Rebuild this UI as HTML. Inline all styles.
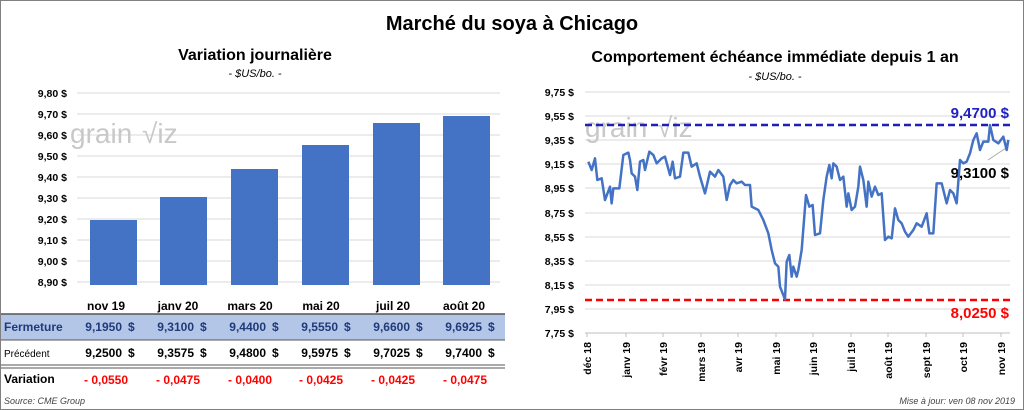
<!DOCTYPE html>
<html><head><meta charset="utf-8"><style>
body{margin:0;background:#fff}
svg{display:block;font-family:"Liberation Sans",sans-serif}
</style></head><body>
<svg width="1024" height="410" viewBox="0 0 1024 410" xmlns="http://www.w3.org/2000/svg">
<rect x="0.5" y="0.5" width="1023" height="409" fill="#fff" stroke="#808080"/>
<text x="512" y="30" text-anchor="middle" font-size="20" font-weight="bold">Marché du soya à Chicago</text>
<text x="255" y="60" text-anchor="middle" font-size="16" font-weight="bold">Variation  journalière</text>
<text x="255" y="77" text-anchor="middle" font-size="11" font-style="italic">- $US/bo. -</text>
<text x="775" y="62" text-anchor="middle" font-size="16" font-weight="bold">Comportement  échéance immédiate depuis 1 an</text>
<text x="775" y="80" text-anchor="middle" font-size="11" font-style="italic">- $US/bo. -</text>
<!-- left chart -->
<g stroke="#d9d9d9" stroke-width="1">
<line x1="77" y1="93" x2="500" y2="93"/><line x1="77" y1="114" x2="500" y2="114"/><line x1="77" y1="135" x2="500" y2="135"/><line x1="77" y1="156" x2="500" y2="156"/><line x1="77" y1="177" x2="500" y2="177"/><line x1="77" y1="198" x2="500" y2="198"/><line x1="77" y1="219" x2="500" y2="219"/><line x1="77" y1="240" x2="500" y2="240"/><line x1="77" y1="261" x2="500" y2="261"/><line x1="77" y1="282" x2="500" y2="282"/>
</g>
<g font-size="10.5" font-weight="bold" text-anchor="end">
<text x="67" y="97">9,80 $</text><text x="67" y="118">9,70 $</text><text x="67" y="139">9,60 $</text><text x="67" y="160">9,50 $</text><text x="67" y="181">9,40 $</text><text x="67" y="202">9,30 $</text><text x="67" y="223">9,20 $</text><text x="67" y="244">9,10 $</text><text x="67" y="265">9,00 $</text><text x="67" y="286">8,90 $</text>
</g>
<text x="70" y="143" font-size="28" fill="#c8c8c8">grain</text><text x="142" y="143" font-size="28" fill="#c8c8c8">√iz</text>
<g fill="#4472c4">
<rect x="90" y="220" width="47" height="65"/>
<rect x="160" y="197" width="47" height="88"/>
<rect x="231" y="169" width="47" height="116"/>
<rect x="302" y="145" width="47" height="140"/>
<rect x="373" y="123" width="47" height="162"/>
<rect x="443" y="116" width="47" height="169"/>
</g>
<g font-size="12" font-weight="bold" text-anchor="middle">
<text x="106" y="310">nov 19</text><text x="178" y="310">janv 20</text><text x="250" y="310">mars 20</text><text x="321" y="310">mai 20</text><text x="393" y="310">juil 20</text><text x="464" y="310">août 20</text>
</g>
<rect x="1" y="314" width="504" height="26" fill="#b4c6e7"/>
<line x1="1" y1="314" x2="505" y2="314" stroke="#555" stroke-width="1.5"/>
<line x1="1" y1="340" x2="505" y2="340" stroke="#555" stroke-width="1"/>
<line x1="1" y1="365" x2="505" y2="365" stroke="#555" stroke-width="1"/>
<line x1="1" y1="368" x2="505" y2="368" stroke="#555" stroke-width="1"/>
<text x="4" y="331" font-size="12" font-weight="bold" fill="#1f3b7a">Fermeture</text>
<text x="4" y="357" font-size="10">Précédent</text>
<text x="4" y="383" font-size="12" font-weight="bold">Variation</text>
<g font-size="12" font-weight="bold" fill="#1f3b7a">
<text x="122" y="331" text-anchor="end">9,1950</text><text x="128" y="331">$</text>
<text x="194" y="331" text-anchor="end">9,3100</text><text x="200" y="331">$</text>
<text x="266" y="331" text-anchor="end">9,4400</text><text x="272" y="331">$</text>
<text x="338" y="331" text-anchor="end">9,5550</text><text x="344" y="331">$</text>
<text x="410" y="331" text-anchor="end">9,6600</text><text x="416" y="331">$</text>
<text x="482" y="331" text-anchor="end">9,6925</text><text x="488" y="331">$</text>
</g>
<g font-size="12" font-weight="bold">
<text x="122" y="357" text-anchor="end">9,2500</text><text x="128" y="357">$</text>
<text x="194" y="357" text-anchor="end">9,3575</text><text x="200" y="357">$</text>
<text x="266" y="357" text-anchor="end">9,4800</text><text x="272" y="357">$</text>
<text x="338" y="357" text-anchor="end">9,5975</text><text x="344" y="357">$</text>
<text x="410" y="357" text-anchor="end">9,7025</text><text x="416" y="357">$</text>
<text x="482" y="357" text-anchor="end">9,7400</text><text x="488" y="357">$</text>
</g>
<g font-size="12" font-weight="bold" fill="#ff0000">
<text x="84" y="384">- 0,0550</text><text x="156" y="384">- 0,0475</text><text x="228" y="384">- 0,0400</text><text x="299" y="384">- 0,0425</text><text x="371" y="384">- 0,0425</text><text x="443" y="384">- 0,0475</text>
</g>
<text x="4" y="404" font-size="9" font-style="italic" fill="#444">Source: CME Group</text>
<text x="1015" y="404" font-size="9" font-style="italic" fill="#444" text-anchor="end">Mise à jour: ven 08 nov 2019</text>
<!-- right chart -->
<g stroke="#d9d9d9" stroke-width="1">
<line x1="585" y1="92" x2="1010" y2="92"/><line x1="585" y1="116" x2="1010" y2="116"/><line x1="585" y1="140" x2="1010" y2="140"/><line x1="585" y1="164" x2="1010" y2="164"/><line x1="585" y1="188" x2="1010" y2="188"/><line x1="585" y1="213" x2="1010" y2="213"/><line x1="585" y1="237" x2="1010" y2="237"/><line x1="585" y1="261" x2="1010" y2="261"/><line x1="585" y1="285" x2="1010" y2="285"/><line x1="585" y1="309" x2="1010" y2="309"/>
</g>
<line x1="585" y1="333" x2="1010" y2="333" stroke="#bfbfbf"/>
<g font-size="10.5" font-weight="bold" text-anchor="end">
<text x="574" y="96">9,75 $</text><text x="574" y="120">9,55 $</text><text x="574" y="144">9,35 $</text><text x="574" y="168">9,15 $</text><text x="574" y="192">8,95 $</text><text x="574" y="217">8,75 $</text><text x="574" y="241">8,55 $</text><text x="574" y="265">8,35 $</text><text x="574" y="289">8,15 $</text><text x="574" y="313">7,95 $</text><text x="574" y="337">7,75 $</text>
</g>
<text x="585" y="137" font-size="28" fill="#c8c8c8">grain</text><text x="657" y="137" font-size="28" fill="#c8c8c8">√iz</text>
<g stroke="#bfbfbf">
<line x1="587" y1="333" x2="587" y2="337"/><line x1="626" y1="333" x2="626" y2="337"/><line x1="663" y1="333" x2="663" y2="337"/><line x1="701" y1="333" x2="701" y2="337"/><line x1="738" y1="333" x2="738" y2="337"/><line x1="776" y1="333" x2="776" y2="337"/><line x1="813" y1="333" x2="813" y2="337"/><line x1="851" y1="333" x2="851" y2="337"/><line x1="888" y1="333" x2="888" y2="337"/><line x1="926" y1="333" x2="926" y2="337"/><line x1="963" y1="333" x2="963" y2="337"/><line x1="1001" y1="333" x2="1001" y2="337"/>
</g>
<g font-size="10.5" font-weight="bold" text-anchor="end">
<text transform="translate(591,342) rotate(-90)">déc 18</text>
<text transform="translate(630,342) rotate(-90)">janv 19</text>
<text transform="translate(667,342) rotate(-90)">févr 19</text>
<text transform="translate(705,342) rotate(-90)">mars 19</text>
<text transform="translate(742,342) rotate(-90)">avr 19</text>
<text transform="translate(780,342) rotate(-90)">mai 19</text>
<text transform="translate(817,342) rotate(-90)">juin 19</text>
<text transform="translate(855,342) rotate(-90)">juil 19</text>
<text transform="translate(892,342) rotate(-90)">août 19</text>
<text transform="translate(930,342) rotate(-90)">sept 19</text>
<text transform="translate(967,342) rotate(-90)">oct 19</text>
<text transform="translate(1005,342) rotate(-90)">nov 19</text>
</g>
<line x1="585" y1="125" x2="1010" y2="125" stroke="#1f1fb4" stroke-width="2.5" stroke-dasharray="7,4"/>
<line x1="585" y1="300" x2="1010" y2="300" stroke="#ff0000" stroke-width="2.5" stroke-dasharray="7,4"/>
<text x="1009" y="118" font-size="15" font-weight="bold" fill="#2020c0" text-anchor="end">9,4700 $</text>
<text x="1009" y="318" font-size="15" font-weight="bold" fill="#ff0000" text-anchor="end">8,0250 $</text>
<line x1="988" y1="160" x2="1006" y2="148" stroke="#aaa" stroke-width="1"/>
<text x="1009" y="178" font-size="15" font-weight="bold" text-anchor="end">9,3100 $</text>
<g transform="translate(560,80) scale(0.33333)">
<polyline fill="none" stroke="#4472c4" stroke-width="7.5" stroke-linejoin="round" points="85,245 95,270 105,235 112,300 125,295 135,360 150,320 155,370 160,325 178,325 190,225 205,218 210,240 215,280 225,290 232,330 240,245 250,240 255,270 268,215 280,225 290,250 305,235 315,230 330,285 338,245 345,295 360,290 370,218 385,218 395,260 410,250 420,290 435,340 450,275 465,290 475,270 490,290 500,360 510,315 520,300 530,310 545,305 555,315 570,315 575,380 595,390 610,420 625,460 635,510 645,550 655,560 660,620 675,658 680,545 688,525 695,590 700,560 710,590 715,570 725,510 738,345 748,380 758,375 765,465 780,460 790,360 800,290 808,255 815,295 820,250 830,260 840,300 850,290 860,380 865,340 875,390 885,380 895,320 900,260 910,300 920,380 925,305 935,350 945,320 955,345 965,340 975,480 985,470 995,475 1005,385 1015,420 1025,430 1035,455 1045,470 1060,450 1070,430 1085,440 1100,400 1108,460 1120,460 1130,310 1145,310 1160,370 1170,330 1180,340 1190,370 1200,240 1210,250 1220,245 1230,220 1240,180 1250,160 1260,210 1270,185 1285,185 1290,135 1300,180 1315,190 1330,170 1340,210 1345,180"/>
</g>
</svg>
</body></html>
